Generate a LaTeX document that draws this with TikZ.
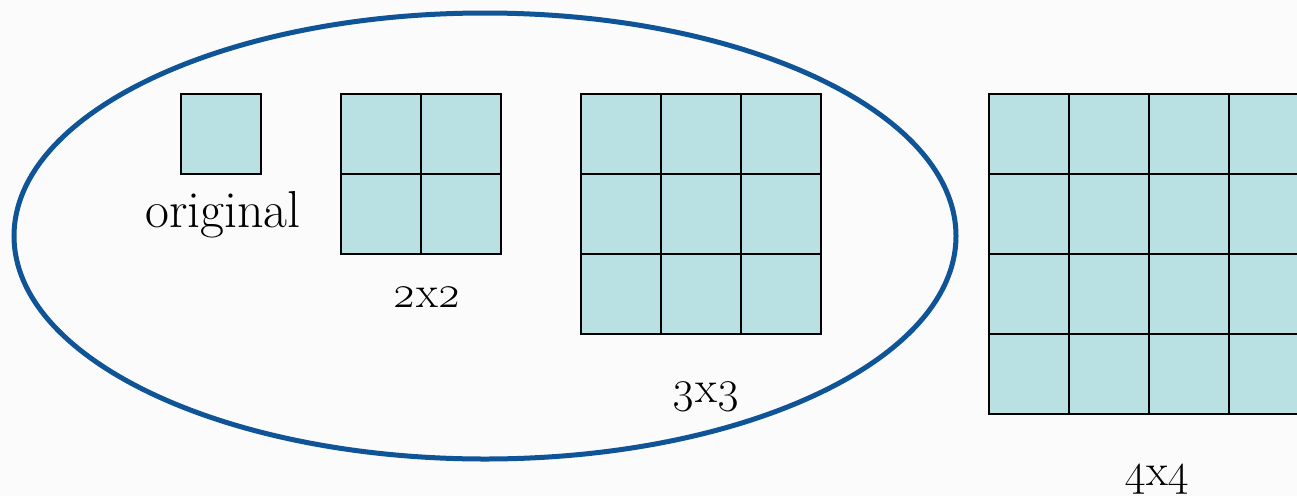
\documentclass[tikz,border=0pt]{standalone}
\usepackage{fontspec}
\setmainfont{Latin Modern Roman}
\usetikzlibrary{shapes.geometric}
\definecolor{cellfill}{RGB}{185,224,227}
\definecolor{ringblue}{RGB}{14,84,150}
\definecolor{bgcol}{RGB}{251,251,251}
\tikzset{
  cell/.style={draw=black, line width=2.2pt, fill=cellfill, minimum size=80pt, inner sep=0pt, outer sep=0pt, anchor=north west},
  lbl/.style={inner sep=0pt, anchor=base, font=\fontsize{45}{54}\selectfont},
  biglbl/.style={inner sep=0pt, anchor=base, font=\fontsize{52}{62}\selectfont},
  ring/.style={draw=ringblue, line width=5pt, ellipse, inner sep=0pt, minimum width=942pt, minimum height=446pt}
}
\begin{document}
\begin{tikzpicture}[x=1pt,y=-1pt]
\useasboundingbox (0,0) rectangle (1297,496);
\clip (0,0) rectangle (1297,496);
\fill[bgcol] (0,0) rectangle (1297,496);
% original
\node[cell] (o11) at (181,94) {};
% 2x2
\foreach \i in {1,2}{\foreach \j in {1,2}{
  \node[cell] (b\i\j) at ({341+80*(\j-1)},{94+80*(\i-1)}) {};
}}
% 3x3
\foreach \i in {1,2,3}{\foreach \j in {1,2,3}{
  \node[cell] (c\i\j) at ({581+80*(\j-1)},{94+80*(\i-1)}) {};
}}
% 4x4
\foreach \i in {1,2,3,4}{\foreach \j in {1,2,3,4}{
  \node[cell] (d\i\j) at ({989+80*(\j-1)},{94+80*(\i-1)}) {};
}}
% labels
\node[biglbl] (lorig) at (223,227) {original};
\node[lbl] (l2) at (427,307) {\oldstylenums{2}x\oldstylenums{2}};
\node[lbl] (l3) at (706,402) {\oldstylenums{3}x\oldstylenums{3}};
\node[lbl] (l4) at (1157,485) {\oldstylenums{4}x\oldstylenums{4}};
% ellipse
\node[ring] (group) at (485,236) {};
\end{tikzpicture}
\end{document}
